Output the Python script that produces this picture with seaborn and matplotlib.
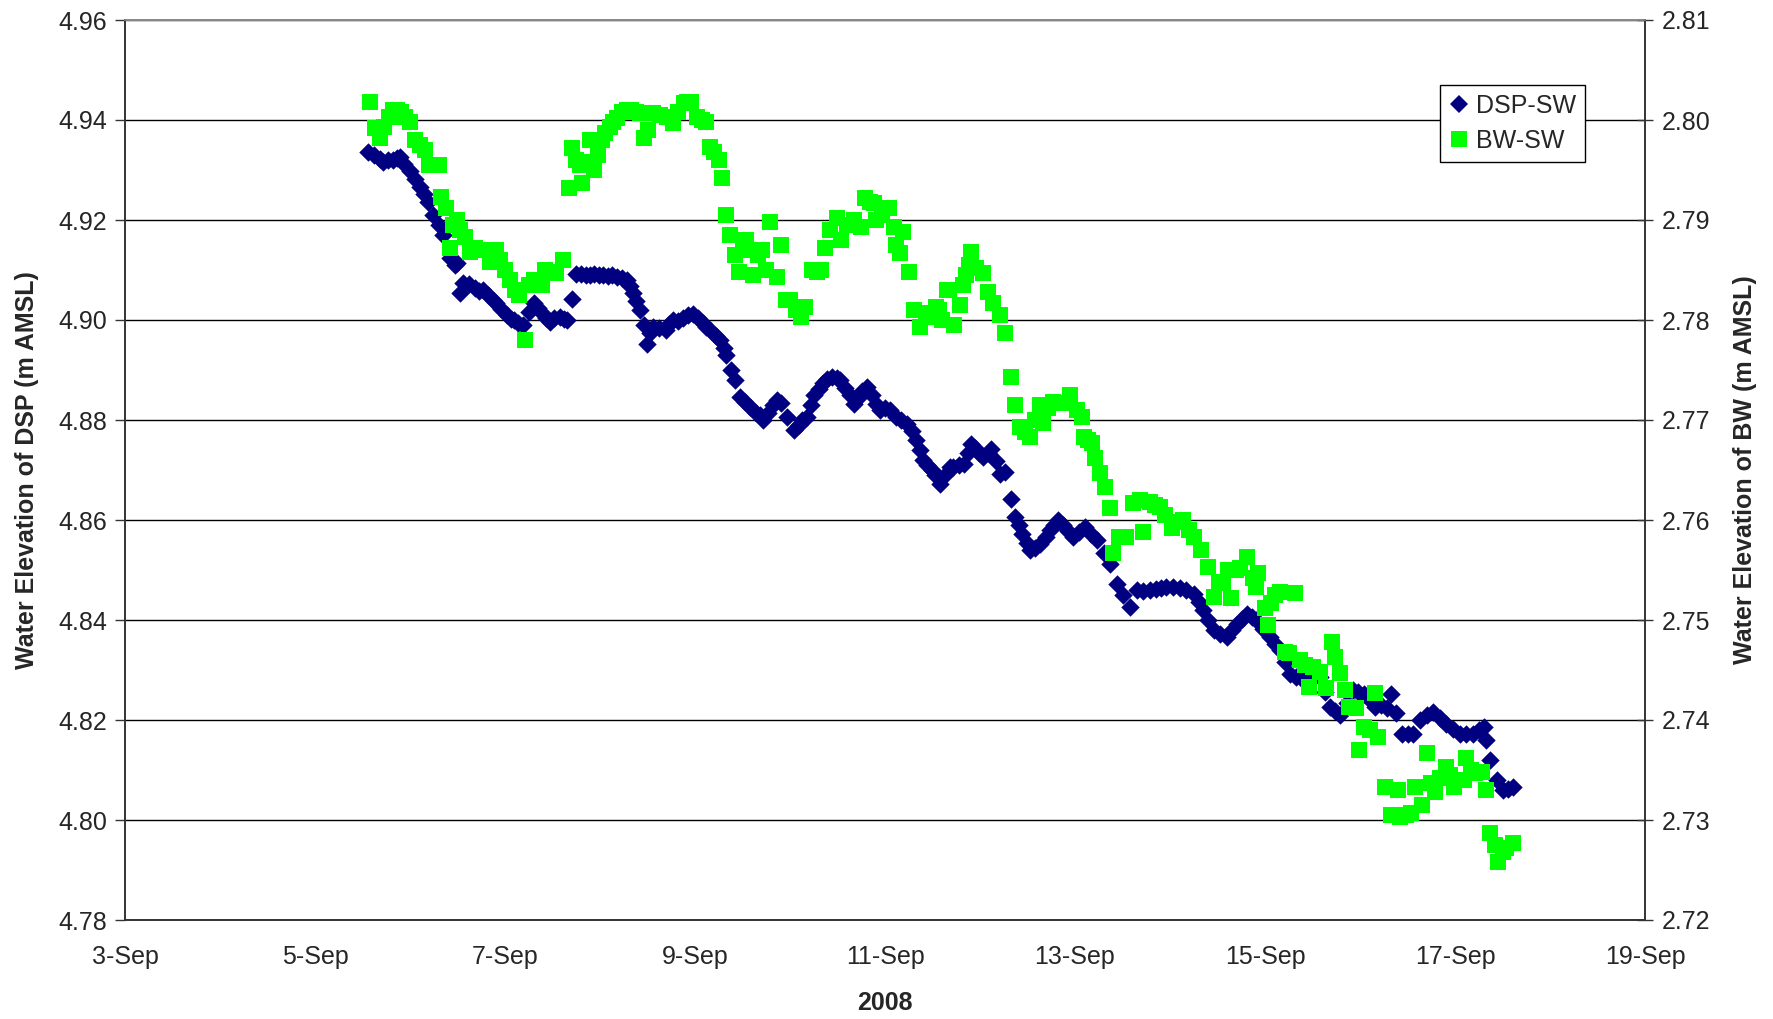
import numpy as np
import pandas as pd
import matplotlib
matplotlib.use("Agg")
import matplotlib.pyplot as plt
import matplotlib.dates as mdates
from matplotlib.lines import Line2D
import seaborn as sns

# day of September 2008 (fractional) and water elevation
dsp_day = [5.56, 5.62, 5.68, 5.72, 5.77, 5.82, 5.86, 5.89, 5.94, 6.00, 6.05, 6.10, 6.15, 6.19, 6.245,
           6.30, 6.35, 6.42, 6.47, 6.49, 6.53, 6.56, 6.62, 6.68, 6.73, 6.77, 6.82, 6.87, 6.91, 6.96,
           7.02, 7.06, 7.09, 7.14, 7.19, 7.25, 7.30, 7.35, 7.39, 7.43, 7.47, 7.52, 7.58, 7.62, 7.65,
           7.70, 7.75, 7.80, 7.85, 7.89, 7.94, 7.99, 8.035, 8.08, 8.13, 8.18, 8.23, 8.28, 8.32, 8.35,
           8.38, 8.42, 8.46, 8.49, 8.53, 8.56, 8.62, 8.69, 8.73, 8.77, 8.82, 8.87, 8.93, 8.98, 9.03,
           9.08, 9.12, 9.17, 9.22, 9.26, 9.30, 9.33, 9.38, 9.42, 9.47, 9.53, 9.58, 9.63, 9.68, 9.72,
           9.77, 9.82, 9.86, 9.91, 9.97, 10.04, 10.09, 10.13, 10.18, 10.22, 10.25, 10.30, 10.35, 10.39,
           10.44, 10.49, 10.53, 10.58, 10.63, 10.67, 10.72, 10.76, 10.81, 10.86, 10.91, 10.95, 11.00,
           11.05, 11.12, 11.17, 11.23, 11.28, 11.33, 11.37, 11.40, 11.44, 11.49, 11.53, 11.58, 11.63,
           11.68, 11.72, 11.78, 11.83, 11.87, 11.91, 11.95, 11.99, 12.03, 12.08, 12.12, 12.17, 12.21,
           12.26, 12.33, 12.37, 12.41, 12.44, 12.49, 12.53, 12.58, 12.63, 12.69, 12.74, 12.78, 12.82,
           12.87, 12.93, 12.98, 13.04, 13.11, 13.17, 13.23, 13.30, 13.37, 13.44, 13.51, 13.58, 13.65,
           13.72, 13.79, 13.85, 13.90, 13.96, 14.03, 14.10, 14.17, 14.25, 14.30, 14.35, 14.40, 14.46,
           14.53, 14.60, 14.65, 14.70, 14.76, 14.81, 14.86, 14.91, 14.98, 15.05, 15.11, 15.16, 15.21,
           15.26, 15.33, 15.40, 15.49, 15.58, 15.63, 15.68, 15.74, 15.79, 15.86, 15.93, 15.98, 16.04,
           16.10, 16.16, 16.22, 16.28, 16.33, 16.38, 16.44, 16.50, 16.56, 16.63, 16.70, 16.77, 16.84,
           16.91, 16.98, 17.05, 17.12, 17.19, 17.25, 17.30, 17.33, 17.37, 17.44, 17.51, 17.56, 17.61]
dsp_level = [4.9337, 4.9330, 4.9322, 4.9317, 4.9320, 4.9320, 4.9325, 4.9327, 4.9312, 4.9297, 4.9282,
             4.9267, 4.9252, 4.9237, 4.9210, 4.9190, 4.9170, 4.9124, 4.9110, 4.9115, 4.9054, 4.9074,
             4.9072, 4.9065, 4.9058, 4.9060, 4.9050, 4.9040, 4.9034, 4.9022, 4.9010, 4.9003, 4.9000,
             4.8995, 4.8990, 4.9015, 4.9034, 4.9024, 4.9014, 4.9005, 4.8997, 4.9005, 4.9007, 4.9003,
             4.9000, 4.9043, 4.9093, 4.9092, 4.9090, 4.9090, 4.9092, 4.9090, 4.9090, 4.9088, 4.9090,
             4.9087, 4.9085, 4.9080, 4.9068, 4.9053, 4.9038, 4.9020, 4.8990, 4.8953, 4.8975, 4.8987,
             4.8985, 4.8980, 4.8992, 4.9000, 4.8998, 4.9005, 4.9010, 4.9013, 4.9005, 4.8995, 4.8987,
             4.8977, 4.8968, 4.8960, 4.8945, 4.8930, 4.8900, 4.8880, 4.8847, 4.8837, 4.8827, 4.8817,
             4.8810, 4.8800, 4.8815, 4.8830, 4.8840, 4.8835, 4.8807, 4.8780, 4.8790, 4.8800, 4.8807,
             4.8830, 4.8850, 4.8862, 4.8875, 4.8883, 4.8887, 4.8885, 4.8880, 4.8865, 4.8850, 4.8833,
             4.8845, 4.8858, 4.8867, 4.8850, 4.8833, 4.8820, 4.8825, 4.8820, 4.8807, 4.8800, 4.8793,
             4.8778, 4.8760, 4.8740, 4.8720, 4.8710, 4.8700, 4.8690, 4.8673, 4.8690, 4.8707, 4.8707,
             4.8710, 4.8713, 4.8735, 4.8753, 4.8745, 4.8735, 4.8727, 4.8735, 4.8743, 4.8718, 4.8693,
             4.8697, 4.8643, 4.8607, 4.8590, 4.8573, 4.8555, 4.8540, 4.8545, 4.8553, 4.8567, 4.8580,
             4.8590, 4.8600, 4.8590, 4.8578, 4.8567, 4.8577, 4.8587, 4.8573, 4.8560, 4.8535, 4.8513,
             4.8473, 4.8450, 4.8427, 4.8460, 4.8458, 4.8460, 4.8462, 4.8465, 4.8467, 4.8466, 4.8465,
             4.8460, 4.8453, 4.8437, 4.8420, 4.8400, 4.8380, 4.8373, 4.8367, 4.8380, 4.8393, 4.8403,
             4.8413, 4.8407, 4.8400, 4.8383, 4.8367, 4.8353, 4.8340, 4.8317, 4.8293, 4.8287, 4.8280,
             4.8283, 4.8287, 4.8257, 4.8227, 4.8218, 4.8210, 4.8235, 4.8260, 4.8257, 4.8253, 4.8240,
             4.8227, 4.8230, 4.8225, 4.8253, 4.8215, 4.8173, 4.8173, 4.8173, 4.8200, 4.8210, 4.8217,
             4.8205, 4.8193, 4.8183, 4.8173, 4.8173, 4.8173, 4.8180, 4.8187, 4.8160, 4.8120, 4.8080,
             4.8060, 4.8063, 4.8067]

bw_day = [5.58, 5.63, 5.68, 5.73, 5.78, 5.82, 5.86, 5.90, 5.95, 6.00, 6.05, 6.10, 6.16, 6.20, 6.25,
          6.30, 6.33, 6.38, 6.42, 6.45, 6.49, 6.53, 6.58, 6.63, 6.68, 6.74, 6.79, 6.84, 6.91, 6.95,
          7.00, 7.05, 7.11, 7.15, 7.21, 7.25, 7.30, 7.35, 7.39, 7.42, 7.48, 7.54, 7.61, 7.67, 7.70,
          7.75, 7.79, 7.81, 7.85, 7.89, 7.94, 7.98, 8.02, 8.05, 8.10, 8.14, 8.18, 8.23, 8.28, 8.33,
          8.38, 8.42, 8.46, 8.50, 8.56, 8.63, 8.70, 8.77, 8.82, 8.88, 8.92, 8.96, 9.02, 9.07, 9.12,
          9.16, 9.20, 9.25, 9.28, 9.33, 9.37, 9.42, 9.46, 9.50, 9.54, 9.58, 9.61, 9.66, 9.70, 9.75,
          9.79, 9.86, 9.91, 9.96, 10.00, 10.06, 10.12, 10.16, 10.23, 10.28, 10.33, 10.37, 10.42,
          10.49, 10.54, 10.60, 10.67, 10.75, 10.79, 10.84, 10.88, 10.91, 10.97, 11.04, 11.09, 11.12,
          11.16, 11.19, 11.25, 11.30, 11.37, 11.43, 11.48, 11.51, 11.54, 11.57, 11.60, 11.65, 11.67,
          11.73, 11.79, 11.82, 11.85, 11.88, 11.91, 11.96, 12.03, 12.08, 12.14, 12.21, 12.26, 12.33,
          12.37, 12.42, 12.47, 12.53, 12.58, 12.63, 12.66, 12.72, 12.77, 12.86, 12.95, 13.02, 13.07,
          13.09, 13.14, 13.18, 13.21, 13.26, 13.32, 13.37, 13.40, 13.46, 13.54, 13.61, 13.68, 13.72,
          13.79, 13.84, 13.89, 13.95, 14.02, 14.08, 14.14, 14.20, 14.25, 14.33, 14.40, 14.46, 14.52,
          14.56, 14.61, 14.64, 14.69, 14.74, 14.81, 14.87, 14.90, 14.93, 15.00, 15.03, 15.06, 15.11,
          15.16, 15.21, 15.25, 15.32, 15.37, 15.42, 15.46, 15.51, 15.58, 15.64, 15.70, 15.74, 15.79,
          15.84, 15.88, 15.96, 15.99, 16.04, 16.10, 16.16, 16.19, 16.26, 16.33, 16.37, 16.40, 16.42,
          16.48, 16.54, 16.58, 16.65, 16.70, 16.75, 16.79, 16.84, 16.91, 16.95, 16.99, 17.05, 17.09,
          17.12, 17.17, 17.21, 17.28, 17.33, 17.37, 17.42, 17.45, 17.50, 17.54, 17.61]
bw_level = [2.8018, 2.7992, 2.7982, 2.7993, 2.8003, 2.8010, 2.8010, 2.8008, 2.8003, 2.7998, 2.7980,
            2.7975, 2.7970, 2.7955, 2.7955, 2.7955, 2.7923, 2.7912, 2.7872, 2.7895, 2.7900, 2.7890,
            2.7883, 2.7868, 2.7872, 2.7870, 2.7870, 2.7858, 2.7870, 2.7860, 2.7850, 2.7840, 2.7830,
            2.7825, 2.7780, 2.7835, 2.7840, 2.7838, 2.7835, 2.7850, 2.7848, 2.7847, 2.7860, 2.7932,
            2.7972, 2.7960, 2.7955, 2.7937, 2.7958, 2.7980, 2.7950, 2.7965, 2.7980, 2.7987, 2.7993,
            2.7998, 2.8002, 2.8008, 2.8010, 2.8010, 2.8008, 2.8007, 2.7982, 2.7990, 2.8007, 2.8005,
            2.8003, 2.7997, 2.8008, 2.8017, 2.8018, 2.8018, 2.8003, 2.8000, 2.7998, 2.7973, 2.7968,
            2.7960, 2.7942, 2.7905, 2.7885, 2.7865, 2.7848, 2.7870, 2.7880, 2.7870, 2.7845, 2.7865,
            2.7870, 2.7850, 2.7898, 2.7843, 2.7875, 2.7820, 2.7820, 2.7810, 2.7803, 2.7813, 2.7850,
            2.7848, 2.7850, 2.7872, 2.7890, 2.7902, 2.7880, 2.7895, 2.7900, 2.7893, 2.7922, 2.7918,
            2.7917, 2.7900, 2.7905, 2.7912, 2.7893, 2.7875, 2.7867, 2.7888, 2.7848, 2.7810, 2.7793,
            2.7807, 2.7805, 2.7803, 2.7813, 2.7810, 2.7800, 2.7830, 2.7830, 2.7795, 2.7815, 2.7835,
            2.7845, 2.7855, 2.7868, 2.7852, 2.7847, 2.7828, 2.7817, 2.7805, 2.7787, 2.7743, 2.7715,
            2.7693, 2.7688, 2.7683, 2.7700, 2.7715, 2.7697, 2.7712, 2.7718, 2.7717, 2.7725, 2.7710,
            2.7703, 2.7683, 2.7680, 2.7677, 2.7662, 2.7647, 2.7633, 2.7612, 2.7567, 2.7583, 2.7583,
            2.7617, 2.7620, 2.7588, 2.7618, 2.7615, 2.7613, 2.7605, 2.7592, 2.7598, 2.7600, 2.7590,
            2.7583, 2.7570, 2.7553, 2.7523, 2.7538, 2.7537, 2.7550, 2.7522, 2.7550, 2.7552, 2.7563,
            2.7542, 2.7533, 2.7547, 2.7512, 2.7495, 2.7517, 2.7525, 2.7528, 2.7468, 2.7467, 2.7527,
            2.7460, 2.7455, 2.7433, 2.7453, 2.7448, 2.7432, 2.7478, 2.7463, 2.7447, 2.7430, 2.7413,
            2.7412, 2.7370, 2.7393, 2.7390, 2.7427, 2.7383, 2.7333, 2.7305, 2.7305, 2.7330, 2.7303,
            2.7305, 2.7307, 2.7333, 2.7315, 2.7367, 2.7337, 2.7328, 2.7342, 2.7353, 2.7345, 2.7333,
            2.7340, 2.7340, 2.7362, 2.7350, 2.7347, 2.7348, 2.7330, 2.7287, 2.7275, 2.7258, 2.7268,
            2.7272, 2.7277]

dsp_ticks = [4.78, 4.80, 4.82, 4.84, 4.86, 4.88, 4.90, 4.92, 4.94, 4.96]
bw_ticks = [2.72, 2.73, 2.74, 2.75, 2.76, 2.77, 2.78, 2.79, 2.80, 2.81]
date_ticks = ["2008-09-03", "2008-09-05", "2008-09-07", "2008-09-09", "2008-09-11",
              "2008-09-13", "2008-09-15", "2008-09-17", "2008-09-19"]


def to_time(days):
    return pd.Timestamp("2008-09-01") + pd.to_timedelta(np.array(days) - 1, unit="D")


dsp = pd.DataFrame({"time": to_time(dsp_day), "level": dsp_level})
bw = pd.DataFrame({"time": to_time(bw_day), "level": bw_level})

sns.set_style("white")
plt.rcParams["font.family"] = ["Liberation Sans", "DejaVu Sans"]

fig = plt.figure(figsize=(17.74, 10.19), dpi=100)
ax = fig.add_axes([125 / 1774, 1 - 920 / 1019, 1520 / 1774, 900 / 1019])
ax2 = ax.twinx()

sns.scatterplot(data=dsp, x="time", y="level", ax=ax, marker="D", s=88,
                color="#000080", linewidth=0, zorder=3)
sns.scatterplot(data=bw, x="time", y="level", ax=ax2, marker="s", s=120,
                color="#00FF00", linewidth=0)

ax.set_xlim(pd.Timestamp("2008-09-03"), pd.Timestamp("2008-09-19"))
ax.set_xticks(pd.to_datetime(date_ticks))
ax.xaxis.set_major_formatter(
    plt.FuncFormatter(lambda v, pos: f"{mdates.num2date(v).day}-Sep"))

ax.set_ylim(4.78, 4.96)
ax.set_yticks(dsp_ticks)
ax.set_yticklabels([f"{t:.2f}" for t in dsp_ticks])
ax2.set_ylim(2.72, 2.81)
ax2.set_yticks(bw_ticks)
ax2.set_yticklabels([f"{t:.2f}" for t in bw_ticks])

ax.grid(axis="y", color="black", linewidth=1)
ax.grid(axis="x", visible=False)
ax2.grid(False)
ax.set_axisbelow(True)

ax.tick_params(axis="both", labelsize=18, direction="out", length=7, width=1,
               color="#333333", pad=6)
ax.tick_params(axis="x", pad=11)
ax2.tick_params(axis="y", labelsize=18, direction="inout", length=12, width=1,
                color="#333333", pad=6)

for name, sp in ax.spines.items():
    sp.set_color("#333333")
    sp.set_linewidth(1.2)
for name, sp in ax2.spines.items():
    sp.set_color("#333333")
    sp.set_linewidth(1.2)
ax2.spines["top"].set_color("#888888")
ax.spines["top"].set_color("#888888")

ax.set_xlabel("2008", fontsize=18, fontweight="bold", labelpad=16)
ax.set_ylabel("Water Elevation of DSP (m AMSL)", fontsize=18, fontweight="bold", labelpad=14)
ax2.set_ylabel("Water Elevation of BW (m AMSL)", fontsize=18, fontweight="bold", labelpad=16)

handles = [
    Line2D([], [], linestyle="none", marker="D", markersize=9,
           markerfacecolor="#000080", markeredgewidth=0),
    Line2D([], [], linestyle="none", marker="s", markersize=12,
           markerfacecolor="#00FF00", markeredgewidth=0),
]
leg = fig.legend(handles, ["DSP-SW", "BW-SW"], loc="upper left",
                 bbox_to_anchor=(1440 / 1774, 1 - 85 / 1019), fontsize=18,
                 frameon=True, fancybox=False, edgecolor="black", framealpha=1,
                 handlelength=0.8, handletextpad=0.3, borderpad=0.35,
                 labelspacing=0.45, borderaxespad=0)
leg.get_frame().set_linewidth(1)

fig.savefig("out.png", dpi=100)
